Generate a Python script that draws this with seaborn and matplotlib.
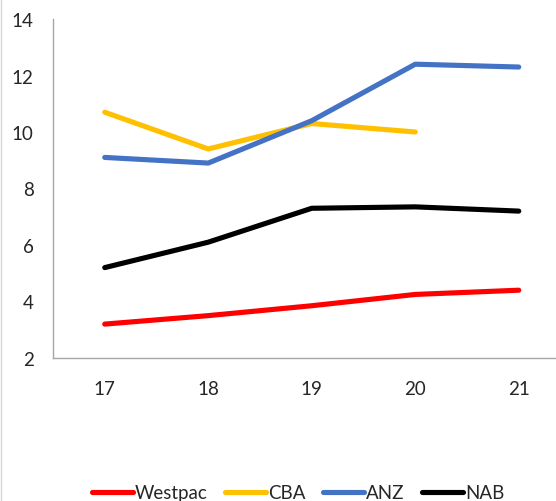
import matplotlib
matplotlib.use("Agg")
import matplotlib.pyplot as plt
from matplotlib.lines import Line2D
import numpy as np
import pandas as pd
import seaborn as sns

# Fiscal years (x axis) and each bank's values
years = [17, 18, 19, 20, 21]
westpac = [3.2, 3.5, 3.85, 4.25, 4.4]
cba = [10.7, 9.4, 10.3, 10.0, np.nan]
anz = [9.1, 8.9, 10.4, 12.4, 12.3]
nab = [5.2, 6.1, 7.3, 7.35, 7.2]

banks = ["Westpac", "CBA", "ANZ", "NAB"]
colors = {"Westpac": "#FF0000", "CBA": "#FFC000", "ANZ": "#4472C4", "NAB": "#000000"}

df = pd.DataFrame({
    "year": years * 4,
    "value": westpac + cba + anz + nab,
    "bank": sum([[b] * len(years) for b in banks], []),
})

sns.set_theme(style="white")
plt.rcParams["font.family"] = ["Lato", "DejaVu Sans"]

W, H = 556, 502
fig = plt.figure(figsize=(W / 100, H / 100), dpi=100)
# plot area: left spine at x=53px, value 2 at y=359px, value 14 at y=20px
ax = fig.add_axes([53 / W, (H - 359) / H, 517.5 / W, 339 / H])

sns.lineplot(data=df, x="year", y="value", hue="bank", hue_order=banks,
             palette=colors, linewidth=3.7, ax=ax, legend=False,
             solid_capstyle="round", solid_joinstyle="round")

ax.set_xlim(16.5, 21.5)
ax.set_ylim(2, 14)
ax.set_xticks(years)
ax.set_xticklabels([str(y) for y in years])
ax.set_yticks(range(2, 15, 2))
ax.set_xlabel("")
ax.set_ylabel("")
ax.tick_params(axis="both", length=0, labelsize=13.5, colors="#262626")
ax.tick_params(axis="x", pad=16)
ax.tick_params(axis="y", pad=14)

for side in ("top", "right"):
    ax.spines[side].set_visible(False)
for side in ("left", "bottom"):
    ax.spines[side].set_color("#A6A6A6")
    ax.spines[side].set_linewidth(1.0)

# faint outer border on the left
fig.add_artist(Line2D([0.5 / W, 0.5 / W], [0, 1], transform=fig.transFigure,
                      color="#D9D9D9", linewidth=1.0))

handles = [Line2D([0], [0], color=colors[b], linewidth=3.7, solid_capstyle="round")
           for b in banks]
fig.legend(handles, banks, loc="center", bbox_to_anchor=(298 / W, 8 / H),
           ncol=4, frameon=False, fontsize=13.5, handlelength=2.2,
           handletextpad=0.12, columnspacing=0.9, labelcolor="#262626")

fig.savefig("out.png", dpi=100)
